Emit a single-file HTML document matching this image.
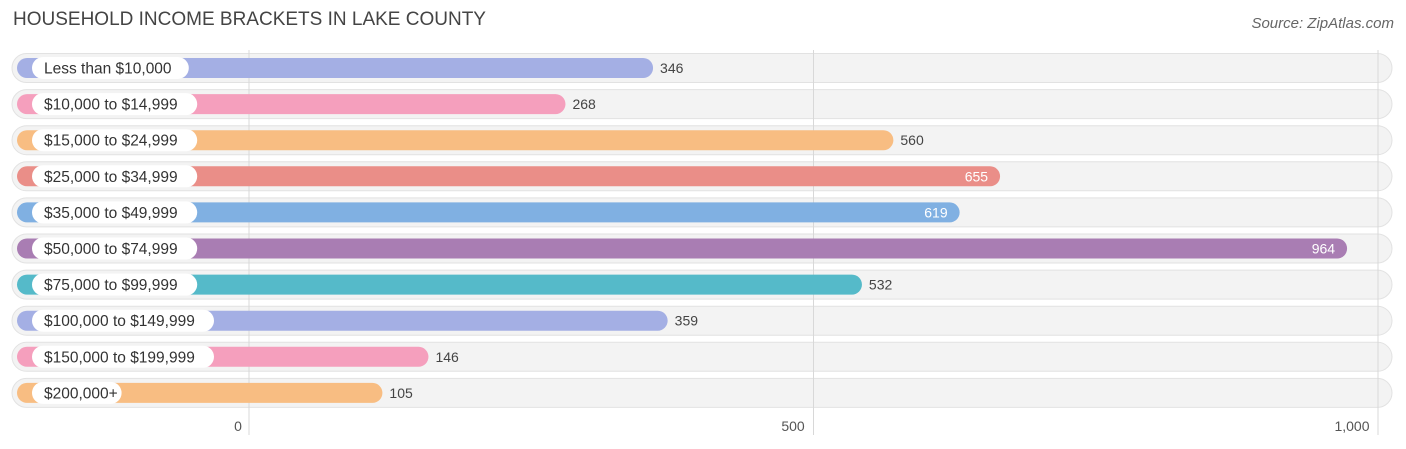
<!DOCTYPE html>
<html><head><meta charset="utf-8"><style>
body{margin:0;width:1406px;height:449px;background:#fff;font-family:"Liberation Sans",sans-serif;position:relative;overflow:hidden}
.t{position:absolute;left:13px;top:9px;font-size:19px;color:#444}
.src{position:absolute;right:12px;top:15px;font-size:15px;color:#666;font-style:italic}
</style></head><body>
<div class="t">HOUSEHOLD INCOME BRACKETS IN LAKE COUNTY</div>
<div class="src">Source: ZipAtlas.com</div>
<svg id="c" width="1406" height="449" style="position:absolute;left:0;top:0"></svg>
<script>
const categories=["Less than $10,000","$10,000 to $14,999","$15,000 to $24,999","$25,000 to $34,999","$35,000 to $49,999","$50,000 to $74,999","$75,000 to $99,999","$100,000 to $149,999","$150,000 to $199,999","$200,000+"];
const values=[346,268,560,655,619,964,532,359,146,105];
const colors=["#a4afe4","#f59fbd","#f8bd82","#ea8e88","#80b0e2","#a97db3","#55bac9","#a4afe4","#f59fbd","#f8bd82"];
const tickValues=[0,500,1000];
const tickLabels=["0","500","1,000"];
const NS="http://www.w3.org/2000/svg";
const svg=document.getElementById('c');
const gx=v=>249+v*1.129;
const bx=v=>264.5+v*1.123;
const ry=i=>68+i*36.1;
function mk(t,a){const e=document.createElementNS(NS,t);for(const k in a)e.setAttribute(k,a[k]);svg.appendChild(e);return e;}
categories.forEach((c,i)=>{
 const y=ry(i);
 const bg=mk('rect',{x:12,y:y-14.5,width:1380,height:29,rx:14.5,fill:'#f3f3f3',stroke:'#e2e2e2'});
 
 
});
tickValues.forEach((v,i)=>{
 const l=mk('line',{x1:gx(v),x2:gx(v),y1:50,y2:435,stroke:'#d8d8d8'});
 
 
 const t=mk('text',{x:gx(v)-11,y:431,'text-anchor':i==0?'middle':'end','font-size':14,fill:'#555'});
 if(i>0)t.setAttribute('x',gx(v)-10+ (i==2?-16:5));
 if(i==1){t.setAttribute('text-anchor','middle');t.setAttribute('x',793);}
 if(i==2){t.setAttribute('text-anchor','middle');t.setAttribute('x',1352);}
 if(i==0)t.setAttribute('x',238);
 t.textContent=tickLabels[i];
 
 
});
categories.forEach((c,i)=>{
 const y=ry(i),v=values[i],e=bx(v);
 const b=mk('rect',{x:17,y:y-10,width:e-17,height:20,rx:10,fill:colors[i]});
 
 
 const w=c.length*8.4+14;
 const p=mk('rect',{x:32,y:y-11,width:w,height:22,rx:11,fill:'#fff'});
 
 
 const lt=mk('text',{x:44,y:y+5.5,'font-size':15.5,fill:'#333'});
 lt.textContent=c;
 
 
 const inside=v>600;
 const vt=mk('text',{x:inside?e-12:e+7,y:y+5,'font-size':14,fill:inside?'#fff':'#444','text-anchor':inside?'end':'start'});
 vt.textContent=v;
 
 
});
</script>
</body></html>
